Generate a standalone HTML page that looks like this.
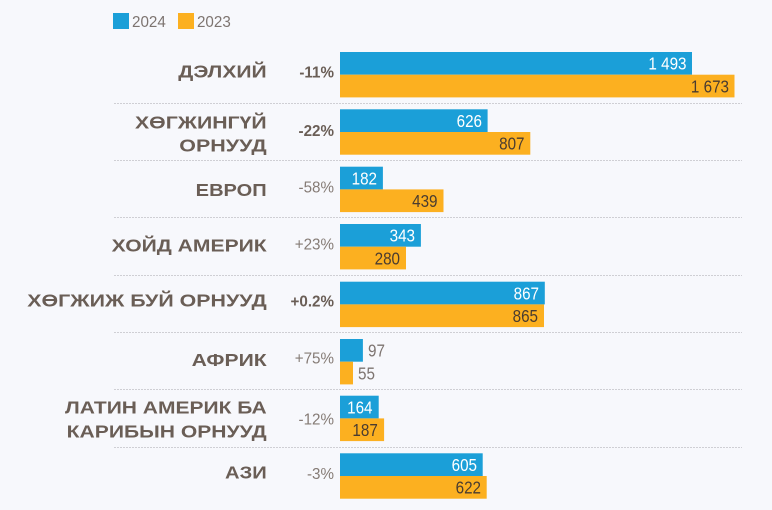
<!DOCTYPE html>
<html><head><meta charset="utf-8"><style>
html,body{margin:0;padding:0;background:#f7f8fc;}
svg{display:block;}
.cat{font-family:"Liberation Sans","Noto Sans CJK JP",sans-serif;font-weight:bold;font-size:17.5px;fill:#6a5e56;}
.pb{font-family:"Liberation Sans",sans-serif;font-weight:bold;font-size:16px;fill:#6a5e56;}
.pn{font-family:"Liberation Sans",sans-serif;font-size:16px;fill:#857b75;}
.vw{font-family:"Liberation Sans",sans-serif;font-size:17.5px;fill:#ffffff;}
.vd{font-family:"Liberation Sans",sans-serif;font-size:17.5px;fill:#4a3c30;}
.vg{font-family:"Liberation Sans",sans-serif;font-size:17.5px;fill:#7d7470;}
.lg{font-family:"Liberation Sans",sans-serif;font-size:16px;fill:#7d7470;}
</style></head><body>
<svg width="772" height="510" viewBox="0 0 772 510" xmlns="http://www.w3.org/2000/svg">
<rect width="772" height="510" fill="#f7f8fc"/>
<!-- legend -->
<rect x="113" y="13" width="16" height="16" fill="#1b9fd8"/>
<text class="lg" x="132" y="27" transform="translate(132,0) scale(0.95,1) translate(-132,0)">2024</text>
<rect x="178" y="13" width="16" height="16" fill="#fcb020"/>
<text class="lg" x="197" y="27" transform="translate(197,0) scale(0.95,1) translate(-197,0)">2023</text>

<!-- separators -->
<g stroke="#cfcfd4" stroke-width="1" stroke-dasharray="2,1">
<line x1="114" x2="742" y1="103.5" y2="103.5"/>
<line x1="114" x2="742" y1="160.5" y2="160.5"/>
<line x1="114" x2="742" y1="217.5" y2="217.5"/>
<line x1="114" x2="742" y1="275.5" y2="275.5"/>
<line x1="114" x2="742" y1="332.5" y2="332.5"/>
<line x1="114" x2="742" y1="389.5" y2="389.5"/>
<line x1="114" x2="742" y1="447.5" y2="447.5"/>
</g>

<!-- bars -->
<g>
<rect x="340" y="52" width="352" height="22.7" fill="#1b9fd8"/>
<rect x="340" y="74.7" width="394.5" height="22.7" fill="#fcb020"/>

<rect x="340" y="109.3" width="147.6" height="22.7" fill="#1b9fd8"/>
<rect x="340" y="132" width="190.3" height="22.7" fill="#fcb020"/>

<rect x="340" y="166.7" width="42.9" height="22.7" fill="#1b9fd8"/>
<rect x="340" y="189.4" width="103.5" height="22.7" fill="#fcb020"/>

<rect x="340" y="224" width="80.9" height="22.7" fill="#1b9fd8"/>
<rect x="340" y="246.7" width="66" height="22.7" fill="#fcb020"/>

<rect x="340" y="281.7" width="204.8" height="22.7" fill="#1b9fd8"/>
<rect x="340" y="304.4" width="204" height="22.7" fill="#fcb020"/>

<rect x="340" y="339" width="22.9" height="22.7" fill="#1b9fd8"/>
<rect x="340" y="361.7" width="13" height="22.7" fill="#fcb020"/>

<rect x="340" y="395.7" width="38.7" height="22.7" fill="#1b9fd8"/>
<rect x="340" y="418.4" width="44.1" height="22.7" fill="#fcb020"/>

<rect x="340" y="453.3" width="142.7" height="22.7" fill="#1b9fd8"/>
<rect x="340" y="476" width="146.7" height="22.7" fill="#fcb020"/>
</g>

<!-- value labels -->
<g text-anchor="end">
<text class="vw" transform="translate(686.5,69.7) scale(0.87,1)">1 493</text>
<text class="vd" transform="translate(729,92.4) scale(0.87,1)">1 673</text>
<text class="vw" transform="translate(482,127) scale(0.87,1)">626</text>
<text class="vd" transform="translate(524.5,149.7) scale(0.87,1)">807</text>
<text class="vw" transform="translate(377,184.4) scale(0.87,1)">182</text>
<text class="vd" transform="translate(437.5,207.1) scale(0.87,1)">439</text>
<text class="vw" transform="translate(415,241.7) scale(0.87,1)">343</text>
<text class="vd" transform="translate(400,264.4) scale(0.87,1)">280</text>
<text class="vw" transform="translate(539,299.4) scale(0.87,1)">867</text>
<text class="vd" transform="translate(538,322.1) scale(0.87,1)">865</text>
<text class="vw" transform="translate(372.5,413.4) scale(0.87,1)">164</text>
<text class="vd" transform="translate(377.8,436.1) scale(0.87,1)">187</text>
<text class="vw" transform="translate(477,471) scale(0.87,1)">605</text>
<text class="vd" transform="translate(481,493.7) scale(0.87,1)">622</text>
</g>
<text class="vg" transform="translate(368,356.7) scale(0.87,1)">97</text>
<text class="vg" transform="translate(358,379.4) scale(0.87,1)">55</text>

<!-- percent labels -->
<g text-anchor="end">
<text class="pb" transform="translate(334,77.7) scale(0.95,1)">-11%</text>
<text class="pb" transform="translate(334,136) scale(0.95,1)">-22%</text>
<text class="pn" transform="translate(334,192.3) scale(0.95,1)">-58%</text>
<text class="pn" transform="translate(334,249.3) scale(0.95,1)">+23%</text>
<text class="pb" transform="translate(334,306.7) scale(0.95,1)">+0.2%</text>
<text class="pn" transform="translate(334,363.5) scale(0.95,1)">+75%</text>
<text class="pn" transform="translate(334,424.3) scale(0.95,1)">-12%</text>
<text class="pn" transform="translate(334,479) scale(0.95,1)">-3%</text>
</g>

<!-- category labels -->
<text class="cat" x="178.3" y="77.7" textLength="88.4" lengthAdjust="spacingAndGlyphs">ДЭЛХИЙ</text>
<text class="cat" x="135" y="128.3" textLength="131.7" lengthAdjust="spacingAndGlyphs">ХӨГЖИНГҮЙ</text>
<text class="cat" x="179.3" y="151.5" textLength="87.4" lengthAdjust="spacingAndGlyphs">ОРНУУД</text>
<text class="cat" x="195.7" y="196" textLength="71" lengthAdjust="spacingAndGlyphs">ЕВРОП</text>
<text class="cat" x="111.7" y="251.5" textLength="155" lengthAdjust="spacingAndGlyphs">ХОЙД АМЕРИК</text>
<text class="cat" x="27.3" y="306.7" textLength="239.4" lengthAdjust="spacingAndGlyphs">ХӨГЖИЖ БУЙ ОРНУУД</text>
<text class="cat" x="191.7" y="366" textLength="75" lengthAdjust="spacingAndGlyphs">АФРИК</text>
<text class="cat" x="65" y="413.3" textLength="201.7" lengthAdjust="spacingAndGlyphs">ЛАТИН АМЕРИК БА</text>
<text class="cat" x="66.7" y="437.3" textLength="200" lengthAdjust="spacingAndGlyphs">КАРИБЫН ОРНУУД</text>
<text class="cat" x="225" y="478.3" textLength="41.7" lengthAdjust="spacingAndGlyphs">АЗИ</text>
</svg>
</body></html>
